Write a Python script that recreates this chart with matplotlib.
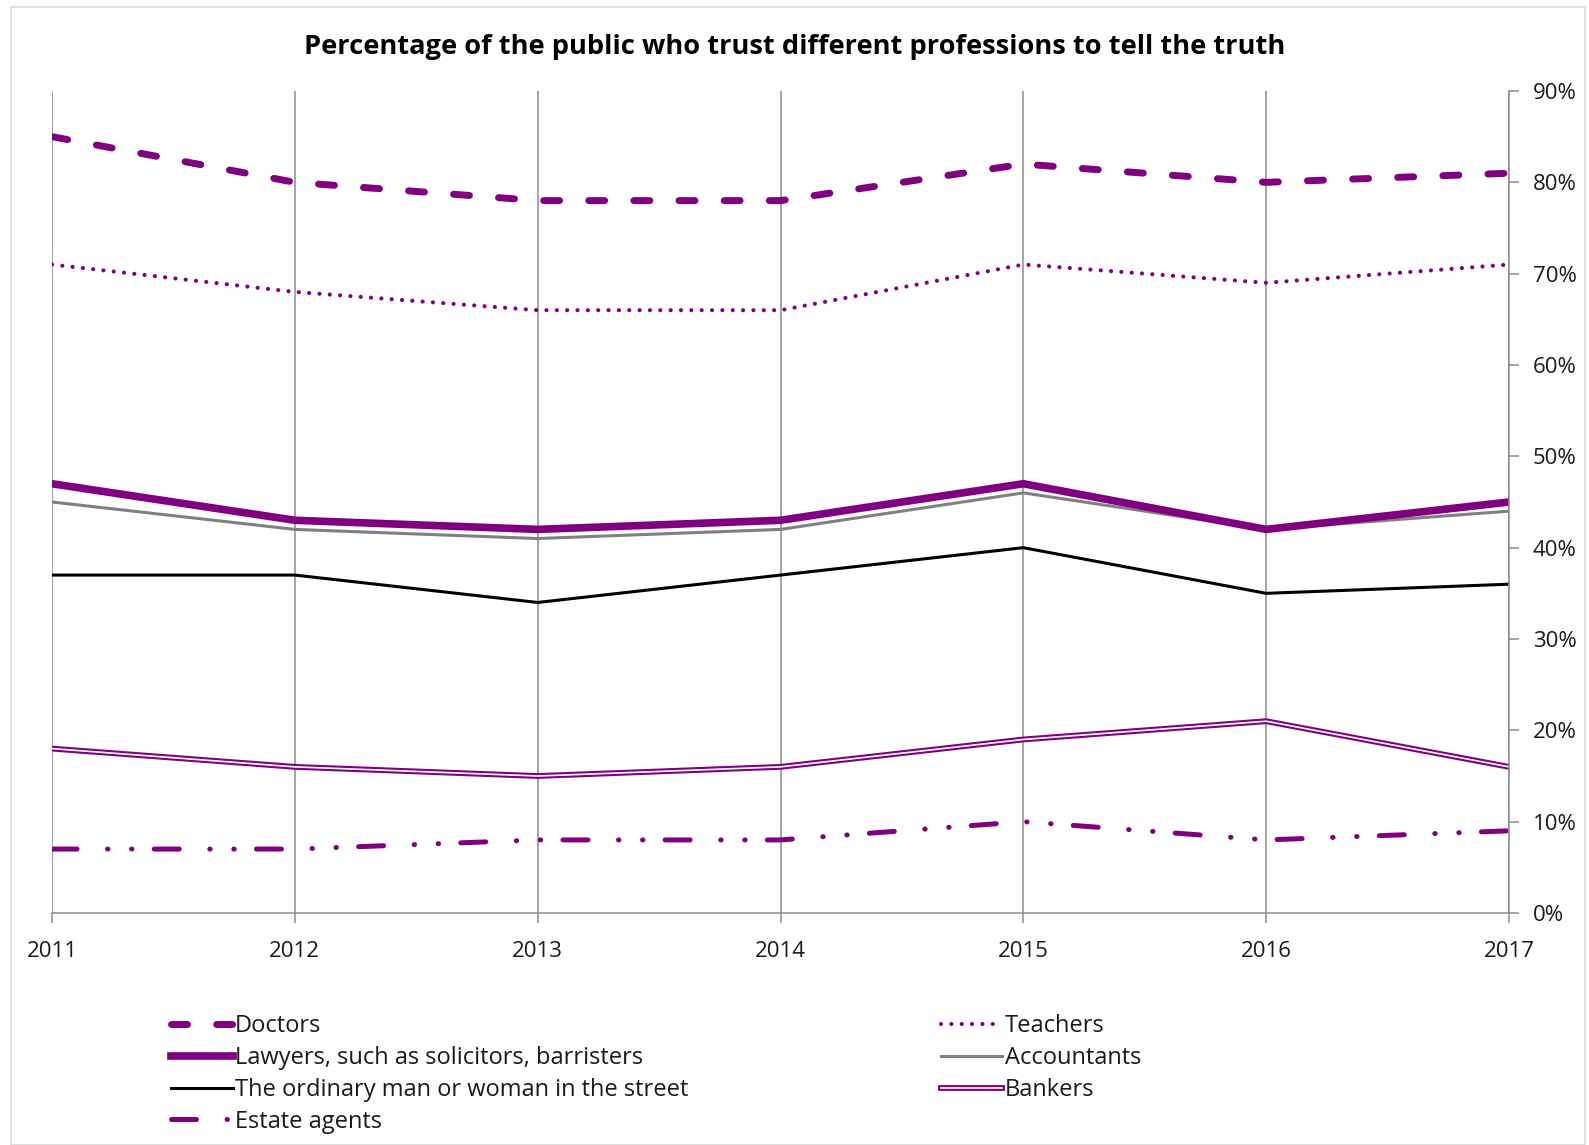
import matplotlib.pyplot as plt
from matplotlib.patches import Rectangle
import matplotlib.patheffects as pe

plt.rcParams["font.family"] = ["Open Sans", "DejaVu Sans"]
plt.rcParams["lines.scale_dashes"] = False

years = [2011, 2012, 2013, 2014, 2015, 2016, 2017]

doctors = [85, 80, 78, 78, 82, 80, 81]
teachers = [71, 68, 66, 66, 71, 69, 71]
lawyers = [47, 43, 42, 43, 47, 42, 45]
accountants = [45, 42, 41, 42, 46, 42, 44]
ordinary = [37, 37, 34, 37, 40, 35, 36]
bankers = [18, 16, 15, 16, 19, 21, 16]
estate_agents = [7, 7, 8, 8, 10, 8, 9]

labels = [
    "Doctors",
    "Teachers",
    "Lawyers, such as solicitors, barristers",
    "Accountants",
    "The ordinary man or woman in the street",
    "Bankers",
    "Estate agents",
]

PURPLE = "#800080"
W, H = 1589, 1145
fig = plt.figure(figsize=(W / 100, H / 100), dpi=100)
fig.patches.append(Rectangle((11 / W, 0), (1585 - 11) / W, (H - 7) / H,
                             transform=fig.transFigure, fill=False,
                             edgecolor="#d9d9d9", lw=1.2))

ax = fig.add_axes([52 / W, 1 - 913 / H, (1509 - 52) / W, (913 - 91) / H])

ln_doc, = ax.plot(years, doctors, color=PURPLE, lw=5, dash_capstyle="round",
                  dashes=(11.5, 21))
ln_tea, = ax.plot(years, teachers, color=PURPLE, lw=3.0, dash_capstyle="round",
                  dashes=(0.05, 7.4))
ln_acc, = ax.plot(years, accountants, color="#808080", lw=2.2)
ln_law, = ax.plot(years, lawyers, color=PURPLE, lw=5.5)
ln_ord, = ax.plot(years, ordinary, color="black", lw=2.2)
# double line: thick purple stroke with a thin white core
ln_bank, = ax.plot(years, bankers, color="white", lw=1.2,
                   path_effects=[pe.Stroke(linewidth=4.2, foreground=PURPLE), pe.Normal()])
ln_est, = ax.plot(years, estate_agents, color=PURPLE, lw=3.6, dash_capstyle="round",
                  dashes=(18, 22, 0.3, 17, 0.3, 16))

ax.set_xlim(2011, 2017)
ax.set_ylim(0, 90)
ax.set_xticks(years)
ax.set_yticks(range(0, 91, 10))
ax.set_yticklabels([f"{v}%" for v in range(0, 91, 10)])
ax.yaxis.tick_right()
ax.grid(axis="x", color="#8c8c8c", lw=1.1)
ax.set_axisbelow(True)
for side in ["left", "top"]:
    ax.spines[side].set_visible(False)
for side in ["right", "bottom"]:
    ax.spines[side].set_color("#8c8c8c")
    ax.spines[side].set_linewidth(1.1)
ax.tick_params(axis="both", colors="#8c8c8c", labelcolor="#1a1a1a",
               labelsize=16, length=7, width=1.1)
ax.tick_params(axis="y", pad=10)
ax.tick_params(axis="x", pad=13.5)

fig.text(0.5, 1 - 47 / H, "Percentage of the public who trust different professions to tell the truth",
         ha="center", va="center", fontsize=19.6, fontweight="bold", color="black")

handles = [ln_doc, ln_law, ln_ord, ln_est, ln_tea, ln_acc, ln_bank]
names = [labels[0], labels[2], labels[4], labels[6], labels[1], labels[3], labels[5]]
leg = fig.legend(handles, names, ncol=2, loc="upper left",
                 bbox_to_anchor=(150 / W, 1 - 993 / H), frameon=False,
                 fontsize=17, handlelength=2.6, handletextpad=0.1,
                 labelspacing=0.33, columnspacing=10.7)
for t in leg.get_texts():
    t.set_color("#1a1a1a")

fig.savefig("out.png", dpi=100)
